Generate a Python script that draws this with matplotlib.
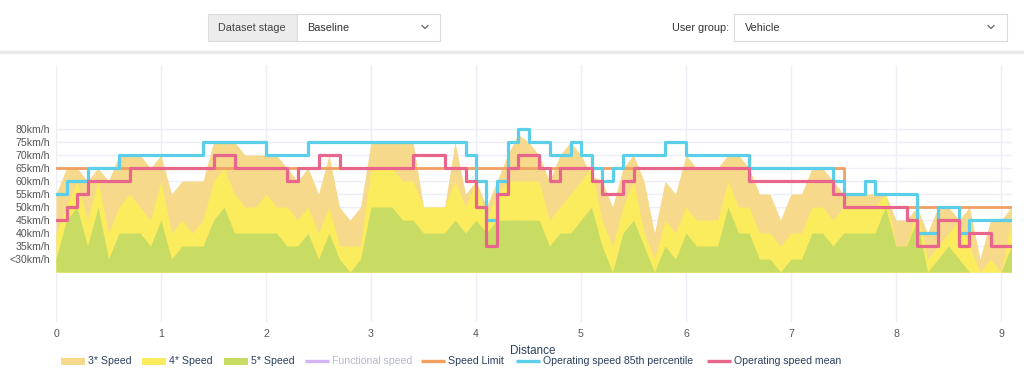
import matplotlib
matplotlib.use('Agg')

import matplotlib.pyplot as plt
import matplotlib.patches as patches
import numpy as np

plt.rcParams['font.family'] = ['Liberation Sans', 'DejaVu Sans']

# distance samples every 0.1 km
distance = np.round(np.arange(0, 92) * 0.1, 1)

speed_3star = [55, 65, 65, 60, 65, 60, 70, 70, 70, 65,
               70, 55, 60, 60, 60, 75, 75, 75, 70, 70,
               70, 70, 65, 60, 65, 55, 70, 50, 45, 50,
               75, 75, 75, 75, 75, 50, 50, 50, 75, 55,
               60, 50, 60, 70, 78, 75, 70, 60, 70, 75,
               70, 62, 60, 50, 65, 70, 60, 40, 60, 55,
               70, 65, 65, 65, 70, 70, 65, 55, 55, 45,
               55, 55, 65, 65, 60, 55, 55, 55, 55, 55,
               45, 45, 50, 40, 50, 50, 45, 50, 30, 45,
               45, 50]
speed_4star = [40, 50, 60, 45, 60, 40, 50, 55, 50, 45,
               60, 40, 45, 40, 45, 60, 65, 55, 50, 50,
               55, 50, 50, 45, 50, 40, 50, 35, 35, 35,
               65, 65, 65, 60, 60, 50, 50, 50, 60, 50,
               60, 45, 55, 60, 60, 60, 60, 45, 50, 55,
               60, 65, 45, 35, 50, 60, 40, 30, 45, 40,
               50, 45, 45, 45, 60, 50, 50, 40, 40, 35,
               40, 40, 50, 50, 45, 50, 50, 50, 50, 55,
               35, 35, 50, 30, 35, 40, 45, 35, 25, 30,
               25, 45]
speed_5star = [30, 45, 50, 35, 50, 30, 40, 40, 40, 35,
               45, 30, 35, 35, 35, 45, 50, 40, 40, 40,
               40, 40, 35, 35, 40, 30, 40, 30, 25, 30,
               50, 50, 50, 45, 45, 40, 40, 40, 45, 40,
               45, 40, 45, 45, 45, 45, 45, 35, 40, 40,
               45, 50, 35, 25, 40, 45, 35, 25, 35, 30,
               40, 35, 35, 35, 50, 40, 40, 30, 30, 25,
               30, 30, 40, 40, 35, 40, 40, 40, 40, 50,
               35, 35, 45, 25, 30, 35, 30, 25, 25, 25,
               25, 35]

# step series: (start distance, value)
limit_x = [0.0, 7.5, 9.1]
limit_v = [65, 50, 50]

p85_x = [0.0, 0.1, 0.3, 0.6, 1.4, 2.0, 2.4, 3.9, 4.0, 4.1, 4.2, 4.3, 4.4,
         4.5, 4.7, 4.9, 5.0, 5.1, 5.2, 5.3, 5.4, 5.8, 6.0, 6.6, 7.4, 7.5,
         7.7, 7.8, 8.2, 8.4, 8.6, 8.7, 9.1]
p85_v = [55, 60, 65, 70, 75, 70, 75, 70, 60, 45, 60, 75, 80,
         75, 70, 75, 70, 65, 60, 65, 70, 75, 70, 65, 60, 55,
         60, 55, 40, 50, 40, 45, 45]

mean_x = [0.0, 0.1, 0.2, 0.3, 0.7, 1.5, 1.7, 2.2, 2.3, 2.5, 2.7, 3.4, 3.7,
          3.9, 4.0, 4.1, 4.2, 4.3, 4.4, 4.6, 4.7, 4.8, 5.1, 5.2, 5.4, 5.5,
          6.6, 7.4, 7.5, 8.1, 8.2, 8.4, 8.6, 8.7, 8.9, 9.1]
mean_v = [45, 50, 55, 60, 65, 70, 65, 60, 65, 70, 65, 70, 65,
          60, 50, 35, 55, 65, 70, 65, 60, 65, 60, 55, 60, 65,
          60, 55, 50, 45, 35, 45, 35, 40, 35, 35]

y_ticks = [30, 35, 40, 45, 50, 55, 60, 65, 70, 75, 80]
y_tick_labels = ['<30km/h', '35km/h', '40km/h', '45km/h', '50km/h', '55km/h',
                 '60km/h', '65km/h', '70km/h', '75km/h', '80km/h']
x_ticks = [0, 1, 2, 3, 4, 5, 6, 7, 8, 9]

legend_items = ['3* Speed', '4* Speed', '5* Speed', 'Functional speed',
                'Speed Limit', 'Operating speed 85th percentile',
                'Operating speed mean']

c3 = '#f6d98b'
c4 = '#fbec5e'
c5 = '#c8dc64'
c_func = '#d4b4f4'
c_limit = '#f0a060'
c_p85 = '#5bcfea'
c_mean = '#e8668b'
text_c = '#2a3f5f'

W, H = 1024, 389
fig = plt.figure(figsize=(W / 100, H / 100), dpi=100)
fig.patch.set_facecolor('white')

# main plot, placed in pixel terms
left, right, top, bottom = 56, 1011.5, 65, 322
ax = fig.add_axes([left / W, 1 - bottom / H, (right - left) / W, (bottom - top) / H])
ax.set_xlim(0, 9.1)
ax.set_ylim(5.8, 104.6)

ax.fill_between(distance, 25, speed_3star, color=c3, linewidth=0, zorder=2)
ax.fill_between(distance, 25, speed_4star, color=c4, linewidth=0, zorder=3)
ax.fill_between(distance, 25, speed_5star, color=c5, linewidth=0, zorder=4)

ax.plot(limit_x, limit_v, drawstyle='steps-post', color=c_limit, lw=2.0, zorder=5)
ax.plot(p85_x, p85_v, drawstyle='steps-post', color=c_p85, lw=2.3, zorder=6)
ax.plot(mean_x, mean_v, drawstyle='steps-post', color=c_mean, lw=2.3, zorder=7)

ax.set_yticks(y_ticks)
ax.set_yticklabels(y_tick_labels)
ax.set_xticks(x_ticks)
ax.grid(True, color='#eceff5', linewidth=1.0, zorder=0)
ax.set_axisbelow(True)
ax.tick_params(axis='both', length=0, labelsize=7.6, colors='#555555')
ax.tick_params(axis='y', pad=4)
ax.tick_params(axis='x', pad=5)
for spine in ax.spines.values():
    spine.set_visible(False)

# overlay in pixel coords for the controls and legend
ov = fig.add_axes([0, 0, 1, 1], zorder=10)
ov.set_xlim(0, W)
ov.set_ylim(H, 0)
ov.axis('off')
ov.patch.set_alpha(0)

ov.add_patch(patches.Rectangle((208, 14), 89, 27, facecolor='#ececec', edgecolor='#dcdcdc', lw=0.8))
ov.add_patch(patches.Rectangle((297, 14), 143, 27, facecolor='white', edgecolor='#dcdcdc', lw=0.8))
ov.add_patch(patches.Rectangle((734, 14), 273, 27, facecolor='white', edgecolor='#dcdcdc', lw=0.8))
ov.text(252, 27.5, 'Dataset stage', ha='center', va='center', fontsize=7.8, color='#444444')
ov.text(307, 27.5, 'Baseline', ha='left', va='center', fontsize=7.8, color='#333333')
ov.text(729, 27.5, 'User group:', ha='right', va='center', fontsize=7.8, color='#333333')
ov.text(745, 27.5, 'Vehicle', ha='left', va='center', fontsize=7.8, color='#333333')
for cx in (425, 991):
    ov.plot([cx - 3, cx, cx + 3], [25.5, 28.5, 25.5], color='#666666', lw=0.9)
ov.plot([0, W], [52, 52], color='#e9e9e9', lw=2.5)

ov.text(533, 351, 'Distance', ha='center', va='center', fontsize=8.4, color=text_c)

swatch_x = [61, 142, 224, 305, 421, 516, 707]
swatch_colors = [c3, c4, c5, c_func, c_limit, c_p85, c_mean]
ly = 361
for i, (sx, label, col) in enumerate(zip(swatch_x, legend_items, swatch_colors)):
    if i < 3:
        ov.add_patch(patches.Rectangle((sx, ly - 3.5), 24, 7, facecolor=col, edgecolor='none'))
    else:
        ov.plot([sx, sx + 24], [ly, ly], color=col, lw=2.4, solid_capstyle='butt')
    tc = '#b4b9c6' if label == 'Functional speed' else text_c
    ov.text(sx + 27, ly, label, ha='left', va='center', fontsize=7.6, color=tc)

fig.savefig('out.png', dpi=100, facecolor='white')
